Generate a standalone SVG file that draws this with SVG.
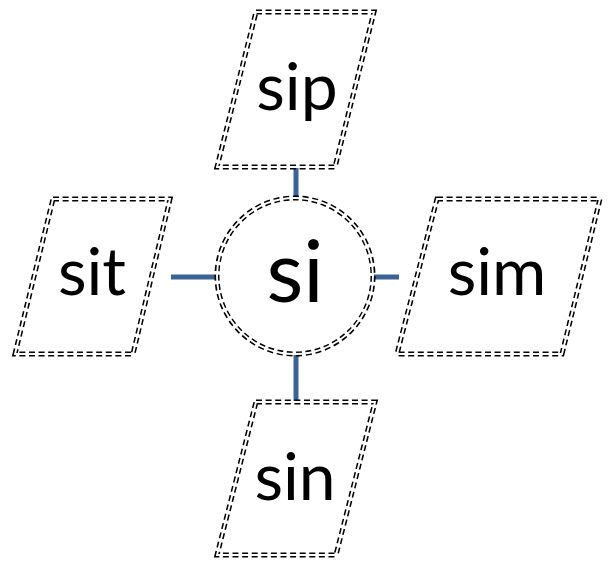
<svg xmlns="http://www.w3.org/2000/svg" width="611" height="562" viewBox="0 0 611 562">
<style>
.outer{fill:none;stroke:#000;stroke-width:5;stroke-dasharray:6 3.6}
.inner{fill:none;stroke:#fff;stroke-width:1.9}
.lbl{font-family:Lato,"Liberation Sans",sans-serif;fill:#000;text-anchor:middle}
.conn{stroke:#3B6396;stroke-width:5;fill:none}
</style>
<rect width="611" height="562" fill="#fff"/>
<g id="connectors">
<line class="conn" x1="296" y1="168" x2="296" y2="199"/>
<line class="conn" x1="171" y1="277" x2="218" y2="277"/>
<line class="conn" x1="374" y1="277" x2="399" y2="277"/>
<line class="conn" x1="296" y1="355" x2="296" y2="403"/>
</g>
<g id="si">
<circle class="outer" cx="295" cy="276" r="78"/>
<circle class="inner" cx="295" cy="276" r="78"/>
<text class="lbl" x="295" y="302" font-size="85">si</text>
</g>
<g id="sip">
<polygon class="outer" points="256,12 374,12 335,167 217,167"/>
<polygon class="inner" points="256,12 374,12 335,167 217,167"/>
<text class="lbl" x="297" y="110" font-size="66">sip</text>
</g>
<g id="sit">
<polygon class="outer" points="53,199 170,199 133,354 15,354"/>
<polygon class="inner" points="53,199 170,199 133,354 15,354"/>
<text class="lbl" x="92" y="295" font-size="66">sit</text>
</g>
<g id="sim">
<polygon class="outer" points="437,199 600,199 562,354 397,354"/>
<polygon class="inner" points="437,199 600,199 562,354 397,354"/>
<text class="lbl" x="497" y="295" font-size="66">sim</text>
</g>
<g id="sin">
<polygon class="outer" points="256,402 375,402 336,555 217,555"/>
<polygon class="inner" points="256,402 375,402 336,555 217,555"/>
<text class="lbl" x="295" y="500" font-size="66">sin</text>
</g>
</svg>
